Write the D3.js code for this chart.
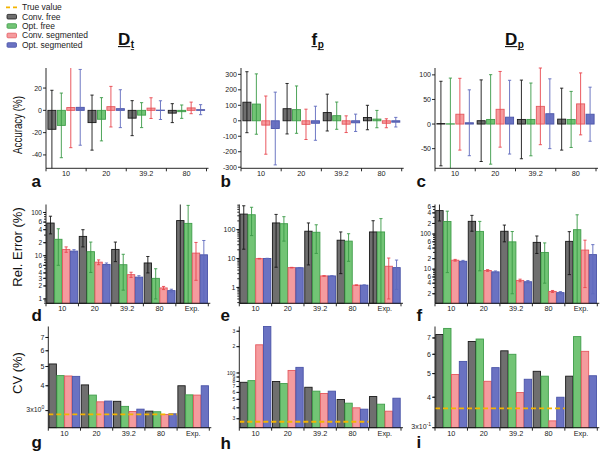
<!DOCTYPE html>
<html><head><meta charset="utf-8">
<script src="https://cdn.jsdelivr.net/npm/d3@7"></script>
<style>body{margin:0;background:#fff} svg{display:block} text{font-family:"Liberation Sans",Arial,sans-serif}</style>
</head><body><svg id="c" width="603" height="458"></svg>
<script>
// ---------------- DATA ----------------
const seriesNames = ["Conv. free","Opt. free","Conv. segmented","Opt. segmented"];
const groups4 = ["10","20","39.2","80"];
const groups5 = ["10","20","39.2","80","Exp."];
// rows = groups, columns = series (Conv. free, Opt. free, Conv. seg., Opt. seg.)
const accDtMean = [[-17,-13.5,2.5,2.7],[-11,-8,3.3,1.5],[-7,-4.3,2,0.2],[-2.5,-1.2,2.2,0.6]];
const accDtErr  = [[35,29,36,34],[24.7,19.4,18.2,17],[15.7,11.2,9.3,8.4],[8.5,6,5.2,4.5]];
const accFpMean = [[120,108,-28,-50],[78,72,-23,-16],[53,33,-22,-13],[21,11,-16,-9]];
const accFpErr  = [[197,195,188,235],[163,153,98,110],[119,88,54,56],[79,56,29,31]];
const accDpMean = [[1,0.5,20,2.6],[6.8,9.4,30,14],[9.4,9.4,36,21],[10,9.4,41,20]];
const accDpErr  = [[86,93,73,67],[83,91,77,75],[80,74,78,71],[63,57,63,55]];
const relDtMean = [[57,24,14,12.8],[28,12.4,7.1,6.3],[14,6.2,3.65,3.2],[6.8,3.0,1.8,1.56],[65,56,11.5,10.5]];
const relDtErr  = [[25,18,2,1],[12,8.3,0.9,0.5],[6.7,4.6,0.5,0.25],[2.8,2,0.15,0.12],[90,90,8.8,12]];
const relFpMean = [[344,327,9.9,10],[170,160,4.85,4.8],[88,81,2.5,2.5],[43,40,1.2,1.2],[83,83,5.4,4.85]];
const relFpErr  = [[323,265,0.2,0.2],[165,120,0.1,0.1],[82,66,0.05,0.05],[40,32,0.03,0.03],[120,157,5,4]];
const relDpMean = [[465,228,18,16.8],[230,119,9.2,8.4],[120,60,4.8,4.4],[58,30,2.33,2.15],[62,133,35,26]];
const relDpErr  = [[230,220,1,1],[110,110,0.5,0.5],[60,58,0.4,0.35],[30,26,0.15,0.15],[55,220,32,24]];
const cvDt = [[5.15,4.5,4.48,4.46],[4.04,3.59,3.32,3.35],[3.34,3.15,2.97,3.05],[2.98,2.96,2.87,2.89],[4.0,3.6,3.59,4.0]];
const cvFp = [[78.3,81.8,210,340],[80,75.7,107,116],[68.7,62,58.3,62],[49.8,45.2,40,38.6],[53.8,44,36.6,51.5]];
const cvDp = [[0.723,0.766,0.496,0.561],[0.677,0.693,0.465,0.529],[0.62,0.6,0.418,0.474],[0.511,0.488,0.32,0.4],[0.488,0.709,0.617,0.49]];
const trueCv = [2.87, 27.7, 0.36];
// tick values
const accDtTicks = [20,0,-20,-40];
const accFpTicks = [300,200,100,0,-100,-200,-300];
const accDpTicks = [100,50,0,-50];
const relDtTicks = [100,60,40,20,10,6,4,3,2,1];
const relFpTicks = [100,10,1];
const relDpTicks = [600,400,200,100,60,40,20,10,6,4,2];
const cvDtTicks = [7,6,5,4,3];
const cvFpTicks = [300,200,100,90,80,70,60,50,40,30];
const cvDpTicks = [0.7,0.6,0.5,0.4,0.3];

// ---------------- DRAW ----------------
const svg = d3.select("#c");
const fillC  = ["#6f6f6f","#72c475","#f59b9e","#6a72c2"];
const strokeC= ["#1a1a1a","#3f9d4a","#e4585e","#4a54a8"];
const whiskC = ["#151515","#3a9a46","#e8464e","#5f6abd"];
const yellow = "#f4b400";

function tickText(v, p){
  if (p.special && Math.abs(v - p.special.v) < 1e-9) return p.special;
  if (!p.log) return String(v);
  const e = Math.floor(Math.log10(v) + 1e-9);
  const m = Math.round(v / Math.pow(10, e));
  return m === 1 ? d3.format("~g")(v) : String(m);
}

function drawPanel(p){
  const g = svg.append("g");
  const xg = d3.scaleBand().domain(p.cats).range([p.x0, p.x1]);
  const xs = d3.scaleBand().domain(d3.range(4)).range([0, xg.bandwidth()]).paddingInner(p.pi).paddingOuter(p.po);
  const y = (p.log ? d3.scaleLog() : d3.scaleLinear()).domain(p.domain).range([p.y1, p.y0]);
  const base = p.log ? p.y1 : y(0);
  const clamp = v => Math.min(Math.max(v, p.domain[0]), p.domain[1]);
  // bars
  p.cats.forEach((c, i) => {
    p.mean[i].forEach((v, s) => {
      const yv = y(clamp(v));
      g.append("rect").attr("x", xg(c) + xs(s)).attr("width", xs.bandwidth())
        .attr("y", Math.min(yv, base)).attr("height", Math.max(Math.abs(base - yv), 0.3))
        .attr("fill", fillC[s]).attr("stroke", strokeC[s]).attr("stroke-width", 0.9);
    });
  });
  // whiskers
  if (p.err) p.cats.forEach((c, i) => {
    p.mean[i].forEach((v, s) => {
      const e = p.err[i][s];
      const lo = v - e, hi = v + e;
      const loC = lo <= p.domain[0] ? p.domain[0] : lo;
      const hiC = Math.min(hi, p.domain[1]);
      const cx = xg(c) + xs(s) + xs.bandwidth() / 2;
      g.append("line").attr("x1", cx).attr("x2", cx).attr("y1", y(loC)).attr("y2", y(hiC))
        .attr("stroke", whiskC[s]).attr("stroke-width", 0.9);
      if (hi <= p.domain[1]) g.append("line").attr("x1", cx-1.6).attr("x2", cx+1.6).attr("y1", y(hi)).attr("y2", y(hi)).attr("stroke", whiskC[s]).attr("stroke-width", 0.9);
      if (lo > p.domain[0]) g.append("line").attr("x1", cx-1.6).attr("x2", cx+1.6).attr("y1", y(lo)).attr("y2", y(lo)).attr("stroke", whiskC[s]).attr("stroke-width", 0.9);
    });
  });
  // true value line
  if (p.truth !== undefined) {
    g.append("line").attr("x1", p.x0).attr("x2", xg("80") + xg.bandwidth())
      .attr("y1", y(p.truth)).attr("y2", y(p.truth))
      .attr("stroke", yellow).attr("stroke-width", 1.8).attr("stroke-dasharray", "5,3");
  }
  // axes
  const ax = g.append("g").attr("stroke", "#111").attr("stroke-width", 0.9);
  ax.append("line").attr("x1", p.x0).attr("x2", p.x0).attr("y1", p.y0).attr("y2", p.y1);
  ax.append("line").attr("x1", p.x0).attr("x2", p.x1 + 2).attr("y1", p.y1).attr("y2", p.y1);
  p.cats.concat([null]).forEach(c => {
    const xx = c === null ? p.x1 : xg(c);
    ax.append("line").attr("x1", xx).attr("x2", xx).attr("y1", p.y1).attr("y2", p.y1 + 3);
  });
  // minor log ticks
  if (p.log) {
    const e0 = Math.floor(Math.log10(p.domain[0])), e1 = Math.ceil(Math.log10(p.domain[1]));
    for (let e = e0; e <= e1; e++) for (let m = 1; m <= 9; m++) {
      const v = m * Math.pow(10, e);
      if (v >= p.domain[0] && v <= p.domain[1])
        ax.append("line").attr("x1", p.x0 - 2).attr("x2", p.x0).attr("y1", y(v)).attr("y2", y(v));
    }
  }
  const tf = p.tickFont || 7;
  p.ticks.forEach(v => {
    ax.append("line").attr("x1", p.x0 - 3).attr("x2", p.x0).attr("y1", y(v)).attr("y2", y(v));
    const t = tickText(v, p);
    const tx = g.append("text").attr("x", p.x0 - 4).attr("y", y(v)).attr("dy", "0.35em")
      .attr("text-anchor", "end").attr("font-size", tf).attr("fill", "#222");
    if (typeof t === "string") tx.text(t);
    else { tx.attr("dy", "0.2em"); tx.append("tspan").text(t.base); tx.append("tspan").attr("dy", -3).attr("font-size", 5).text(t.sup); }
  });
  // x labels
  p.cats.forEach(c => {
    g.append("text").attr("x", xg(c) + xg.bandwidth() / 2).attr("y", p.labY)
      .attr("text-anchor", "middle").attr("font-size", 7.3).attr("fill", "#222").text(c);
  });
  // panel letter
  g.append("text").attr("x", p.lx).attr("y", p.ly).attr("font-size", 17).attr("font-weight", "bold").attr("fill", "#111").text(p.letter);
}

const R1 = {y0: 68, y1: 168.3, labY: 176.3, pi: 0.15, po: 0.2, log: false, cats: groups4};
const R2 = {y0: 204.5, y1: 303.3, labY: 311, pi: 0.06, po: 0.1, log: true, cats: groups5};
const R3 = {y0: 326.5, y1: 427.7, labY: 436, pi: 0.06, po: 0.1, log: true, cats: groups5};

drawPanel({...R1, x0: 46, x1: 206.5, domain: [-52, 38], mean: accDtMean, err: accDtErr, ticks: accDtTicks, letter: "a", lx: 31.5, ly: 187});
drawPanel({...R1, x0: 241, x1: 401.7, domain: [-307, 341], mean: accFpMean, err: accFpErr, ticks: accFpTicks, letter: "b", lx: 220.5, ly: 187});
drawPanel({...R1, x0: 435, x1: 596, domain: [-90, 114], mean: accDpMean, err: accDpErr, ticks: accDpTicks, letter: "c", lx: 416.5, ly: 187});

drawPanel({...R2, x0: 46, x1: 208.3, domain: [0.794, 153], mean: relDtMean, err: relDtErr, ticks: relDtTicks, letter: "d", lx: 31.5, ly: 321, tickFont: 6.5});
drawPanel({...R2, x0: 239.3, x1: 401, domain: [0.283, 738], mean: relFpMean, err: relFpErr, ticks: relFpTicks, letter: "e", lx: 220.5, ly: 321});
drawPanel({...R2, x0: 435, x1: 597.3, domain: [1.07, 693], mean: relDpMean, err: relDpErr, ticks: relDpTicks, letter: "f", lx: 416.5, ly: 321, tickFont: 6.5});

drawPanel({...R3, x0: 48.3, x1: 209.3, domain: [2.46, 7.95], mean: cvDt, ticks: cvDtTicks, truth: trueCv[0], special: {v: 3, base: "3x10", sup: "0"}, letter: "g", lx: 31.5, ly: 448});
drawPanel({...R3, x0: 239.3, x1: 401, domain: [23.7, 340], mean: cvFp, ticks: cvFpTicks, truth: trueCv[1], letter: "h", lx: 220.5, ly: 449, tickFont: 5});
drawPanel({...R3, x0: 435, x1: 597.3, domain: [0.3, 0.78], mean: cvDp, ticks: cvDpTicks, truth: trueCv[2], special: {v: 0.3, base: "3x10", sup: "-1"}, letter: "i", lx: 416.5, ly: 448});

// y-axis titles
function yTitle(txt, cy, len){
  const t = svg.append("text").attr("transform", `translate(22,${cy}) rotate(-90)`)
    .attr("text-anchor", "middle").attr("font-size", 13).attr("fill", "#111").text(txt);
  if (len) t.attr("textLength", len).attr("lengthAdjust", "spacingAndGlyphs");
}
yTitle("Accuracy (%)", 125, 58);
yTitle("Rel. Error (%)", 247);
yTitle("CV (%)", 373);

// column titles
function colTitle(x, main, sub){
  const t = svg.append("text").attr("x", x).attr("y", 45).attr("font-weight", "bold").attr("fill", "#111");
  const m = t.append("tspan").attr("font-size", 17).text(main);
  const s = t.append("tspan").attr("font-size", 10).attr("dy", 3).attr("dx", 0.5).text(sub);
  const wm = m.node().getComputedTextLength(), ws = s.node().getComputedTextLength();
  svg.append("line").attr("x1", x).attr("x2", x + wm).attr("y1", 46.6).attr("y2", 46.6).attr("stroke", "#111").attr("stroke-width", 1.1);
  svg.append("line").attr("x1", x + wm + 0.5).attr("x2", x + wm + 0.5 + ws).attr("y1", 49.6).attr("y2", 49.6).attr("stroke", "#111").attr("stroke-width", 0.9);
}
colTitle(118, "D", "t");
colTitle(311.5, "f", "p");
colTitle(505, "D", "p");

// legend
const lg = svg.append("g");
const rowsY = [7.3, 16.7, 26, 35.5, 45];
lg.append("line").attr("x1", 6).attr("x2", 17).attr("y1", rowsY[0]).attr("y2", rowsY[0])
  .attr("stroke", yellow).attr("stroke-width", 1.8).attr("stroke-dasharray", "4,3");
lg.append("text").attr("x", 22).attr("y", rowsY[0]).attr("dy", "0.35em").attr("font-size", 8.5).attr("fill", "#222").text("True value");
seriesNames.forEach((n, s) => {
  lg.append("rect").attr("x", 7).attr("y", rowsY[s+1] - 2.3).attr("width", 9.5).attr("height", 4.6).attr("rx", 1)
    .attr("fill", fillC[s]).attr("stroke", strokeC[s]).attr("stroke-width", 0.8);
  lg.append("text").attr("x", 22).attr("y", rowsY[s+1]).attr("dy", "0.35em").attr("font-size", 8.5).attr("fill", "#222").text(n);
});
</script></body></html>
